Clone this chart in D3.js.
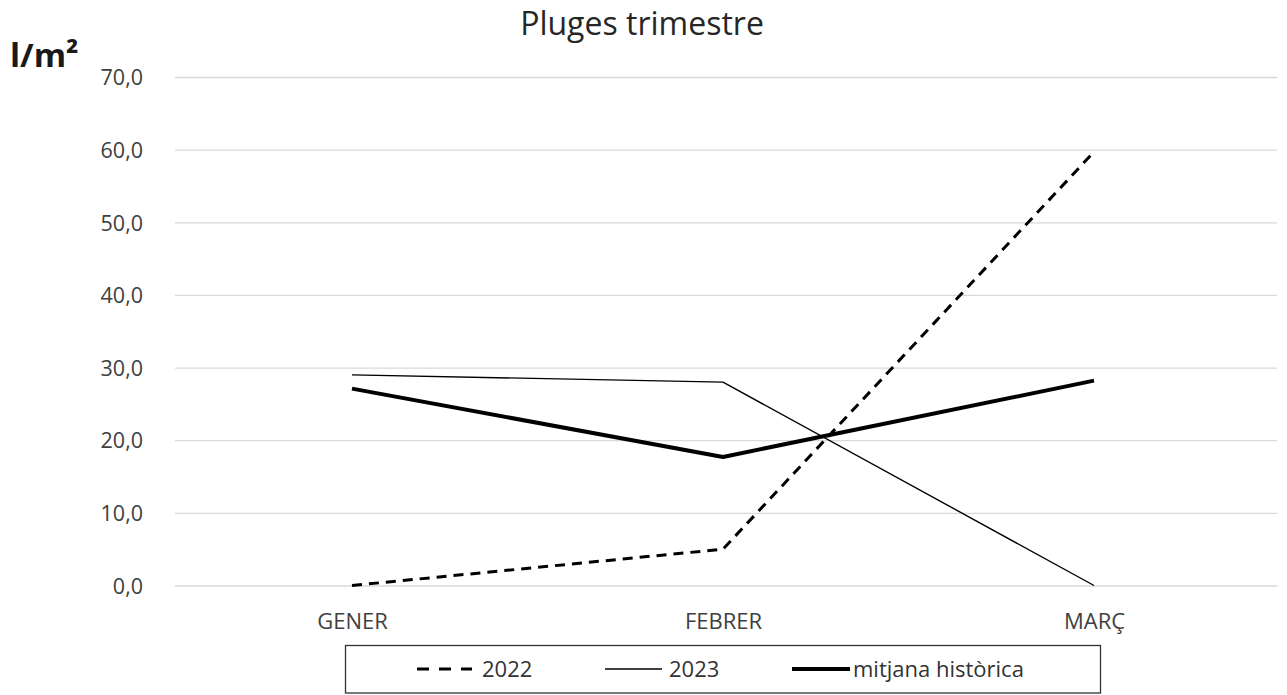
<!DOCTYPE html>
<html><head><meta charset="utf-8">
<script src="https://cdn.jsdelivr.net/npm/d3@7"></script>
<style>body{margin:0;background:#fff;} svg{display:block;font-family:"Open Sans",Lato,sans-serif;}</style>
</head><body>
<svg id="c" width="1287" height="695"></svg>
<script>
const months = ["GENER", "FEBRER", "MARÇ"];
const s2022 = [0.0, 5.0, 59.7];
const s2023 = [29.0, 28.0, 0.0];
const sMitjana = [27.1, 17.7, 28.2];
const yTicks = [0, 10, 20, 30, 40, 50, 60, 70];
const seriesNames = ["2022", "2023", "mitjana històrica"];

const svg = d3.select("#c");
const gridL = 175, gridR = 1277;
const x = d3.scalePoint().domain(months).range([166.5, 1279.5]).padding(0.5);
const y = d3.scaleLinear().domain([0, 70]).range([585.5, 77]);

svg.append("text").attr("x", 642).attr("y", 35).attr("text-anchor", "middle")
  .attr("font-size", 32).attr("fill", "#262626").text("Pluges trimestre");
svg.append("text").attr("x", 10).attr("y", 67).attr("font-size", 33).attr("font-weight", "bold")
  .attr("fill", "#1a1a1a").text("l/m²");

const yAxis = d3.axisLeft(y).tickValues(yTicks).tickSize(0)
  .tickFormat(d => d3.format(".1f")(d).replace(".", ","));
const gy = svg.append("g").attr("transform", `translate(${gridL},0)`).call(yAxis);
gy.select(".domain").remove();
gy.selectAll(".tick line").attr("x2", gridR - gridL).attr("stroke", "#d9d9d9").attr("stroke-width", 1.3);
gy.selectAll(".tick text").attr("x", -32).attr("dy", "0.36em").attr("font-size", 21.5).attr("fill", "#404040")
  .attr("font-family", "'Open Sans', sans-serif");

const xAxis = d3.axisBottom(x).tickSize(0);
const gx = svg.append("g").attr("transform", "translate(0,585.5)").call(xAxis);
gx.select(".domain").remove();
gx.selectAll(".tick text").attr("dy", 0).attr("y", 43.5).attr("font-size", 22).attr("fill", "#404040")
  .attr("font-family", "'Open Sans', sans-serif");

const line = d3.line().x((d, i) => x(months[i])).y(d => y(d));
const styles = [
  {data: s2022, w: 3, dash: "10,7"},
  {data: s2023, w: 1.4, dash: null},
  {data: sMitjana, w: 4, dash: null}
];
styles.forEach(s => {
  svg.append("path").datum(s.data).attr("d", line).attr("fill", "none")
    .attr("stroke", "#000").attr("stroke-width", s.w)
    .attr("stroke-dasharray", s.dash).attr("stroke-linejoin", "round");
});

// legend
svg.append("rect").attr("x", 345.5).attr("y", 645.5).attr("width", 755).attr("height", 47.5)
  .attr("fill", "#fff").attr("stroke", "#333").attr("stroke-width", 1.3);
const legX = [[417, 472, 482], [605, 662, 669], [792, 850, 853]];
styles.forEach((s, i) => {
  svg.append("line").attr("x1", legX[i][0]).attr("x2", legX[i][1]).attr("y1", 669).attr("y2", 669)
    .attr("stroke", "#000").attr("stroke-width", s.w).attr("stroke-dasharray", s.dash ? "12,10" : null);
  svg.append("text").attr("x", legX[i][2]).attr("y", 677).attr("font-size", 22)
    .attr("fill", "#333").text(seriesNames[i]);
});
</script>
</body></html>
